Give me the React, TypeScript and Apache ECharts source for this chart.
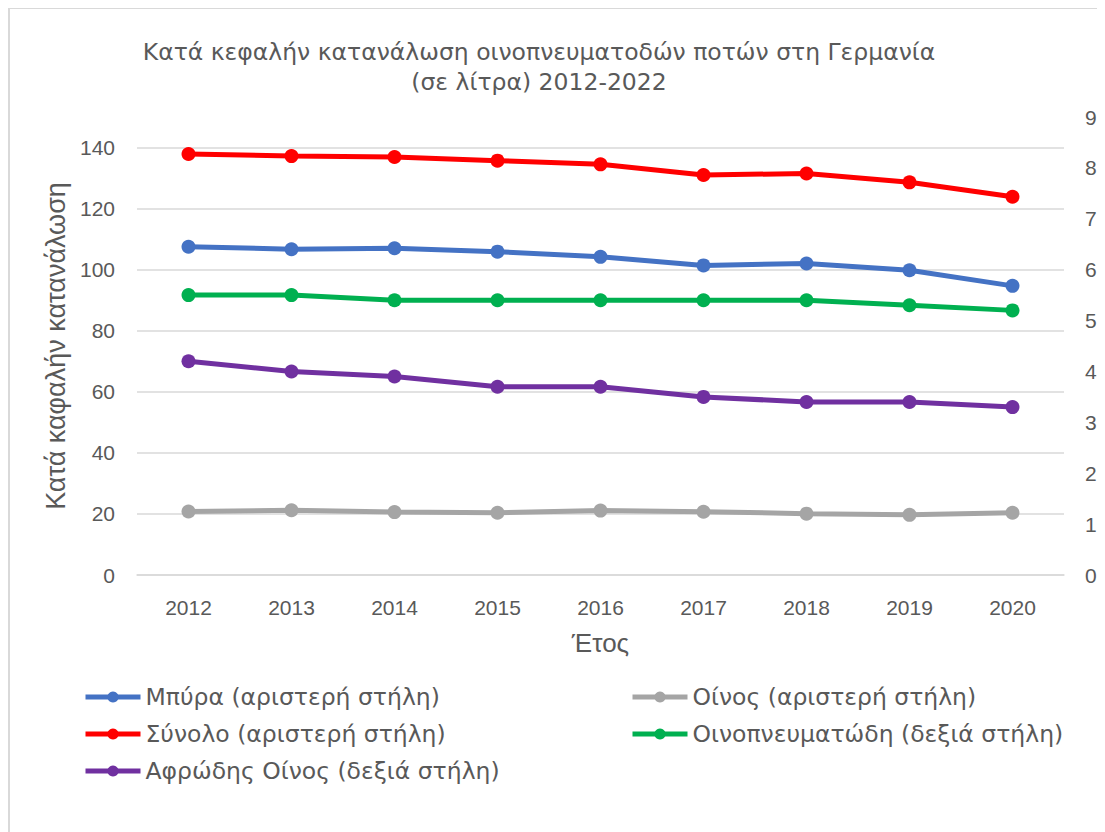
import React, { useEffect, useRef } from "react";
import * as echarts from "echarts";

const years = ["2012", "2013", "2014", "2015", "2016", "2017", "2018", "2019", "2020"];
const beer = [107.5, 106.7, 107.0, 105.9, 104.2, 101.4, 102.0, 99.8, 94.7];
const wine = [20.8, 21.2, 20.6, 20.4, 21.1, 20.7, 20.1, 19.7, 20.4];
const total = [137.9, 137.2, 136.9, 135.7, 134.5, 131.0, 131.5, 128.6, 123.9];
const spirits = [5.5, 5.5, 5.4, 5.4, 5.4, 5.4, 5.4, 5.3, 5.2];
const sparkling = [4.2, 4.0, 3.9, 3.7, 3.7, 3.5, 3.4, 3.4, 3.3];

const names = {
  beer: "Μπύρα (αριστερή στήλη)",
  wine: "Οίνος (αριστερή στήλη)",
  total: "Σύνολο (αριστερή στήλη)",
  spirits: "Οινοπνευματώδη (δεξιά στήλη)",
  sparkling: "Αφρώδης Οίνος (δεξιά στήλη)",
};

const titleText = "Κατά κεφαλήν κατανάλωση οινοπνευματοδών ποτών στη Γερμανία\n(σε λίτρα) 2012-2022";

export default function App() {
  const ref = useRef<HTMLDivElement>(null);
  useEffect(() => {
    if (!ref.current) return;
    const chart = echarts.init(ref.current, undefined, { renderer: "svg" });
    const labelFont = "'Liberation Sans', Arial, sans-serif";
    const verdana = "'DejaVu Sans', Verdana, sans-serif";
    const txt = "#595959";
    const mk = (name: string, data: number[], color: string, yAxisIndex: number) => ({
      name,
      type: "line",
      data,
      yAxisIndex,
      symbol: "circle",
      symbolSize: 14,
      lineStyle: { width: 5, color },
      itemStyle: { color },
      z: 3,
    });
    const legendCommon = {
      orient: "vertical",
      top: 677,
      padding: 0,
      itemWidth: 55,
      itemHeight: 14,
      itemGap: 13,
      lineStyle: { width: 5 },
      textStyle: { fontFamily: verdana, fontSize: 23.5, color: txt, lineHeight: 24 },
    };
    chart.setOption({
      animation: false,
      backgroundColor: "#ffffff",
      graphic: [
        { type: "rect", shape: { x: 0, y: 0, width: 2, height: 824 }, style: { fill: "#d9d9d9" } },
        { type: "rect", shape: { x: 0, y: 0, width: 1097, height: 1 }, style: { fill: "#d9d9d9" } },
        {
          type: "text",
          x: 531,
          y: 29,
          style: {
            text: titleText,
            fontFamily: verdana,
            fontSize: 23.5,
            lineHeight: 30,
            fill: txt,
            textAlign: "center",
            textVerticalAlign: "top",
          },
        },
      ],
      grid: { left: 129, right: 41, top: 109, bottom: 257 },
      legend: [
        { ...legendCommon, left: 75, data: [names.beer, names.total, names.sparkling] },
        { ...legendCommon, left: 622, data: [names.wine, names.spirits] },
      ],
      xAxis: {
        type: "category",
        data: years,
        boundaryGap: true,
        axisLine: { show: true, lineStyle: { color: "#d9d9d9", width: 1.5 } },
        axisTick: { show: false },
        axisLabel: { fontFamily: labelFont, fontSize: 21, color: txt, margin: 22 },
        name: "Έτος",
        nameLocation: "middle",
        nameGap: 55,
        nameTextStyle: { fontFamily: labelFont, fontSize: 26, color: txt },
      },
      yAxis: [
        {
          type: "value",
          min: 0,
          max: 150,
          interval: 20,
          axisLine: { show: false },
          axisTick: { show: false },
          axisLabel: { fontFamily: labelFont, fontSize: 21, color: txt, margin: 22, showMaxLabel: false },
          splitLine: { show: true, showMaxLine: false, lineStyle: { color: "#d9d9d9", width: 1.5 } },
          name: "Κατά καφαλήν κατανάλωση",
          nameLocation: "middle",
          nameGap: 68,
          nameRotate: 90,
          nameTextStyle: { fontFamily: labelFont, fontSize: 27, color: txt },
        },
        {
          type: "value",
          min: 0,
          max: 9,
          interval: 1,
          position: "right",
          axisLine: { show: false },
          axisTick: { show: false },
          axisLabel: { fontFamily: labelFont, fontSize: 21, color: txt, margin: 21 },
          splitLine: { show: false },
        },
      ],
      series: [
        mk(names.beer, beer, "#4472C4", 0),
        mk(names.wine, wine, "#A5A5A5", 0),
        mk(names.total, total, "#FF0000", 0),
        mk(names.spirits, spirits, "#00B050", 1),
        mk(names.sparkling, sparkling, "#7030A0", 1),
      ],
    });
    return () => chart.dispose();
  }, []);
  return <div ref={ref} style={{ width: 1097, height: 824 }} />;
}
